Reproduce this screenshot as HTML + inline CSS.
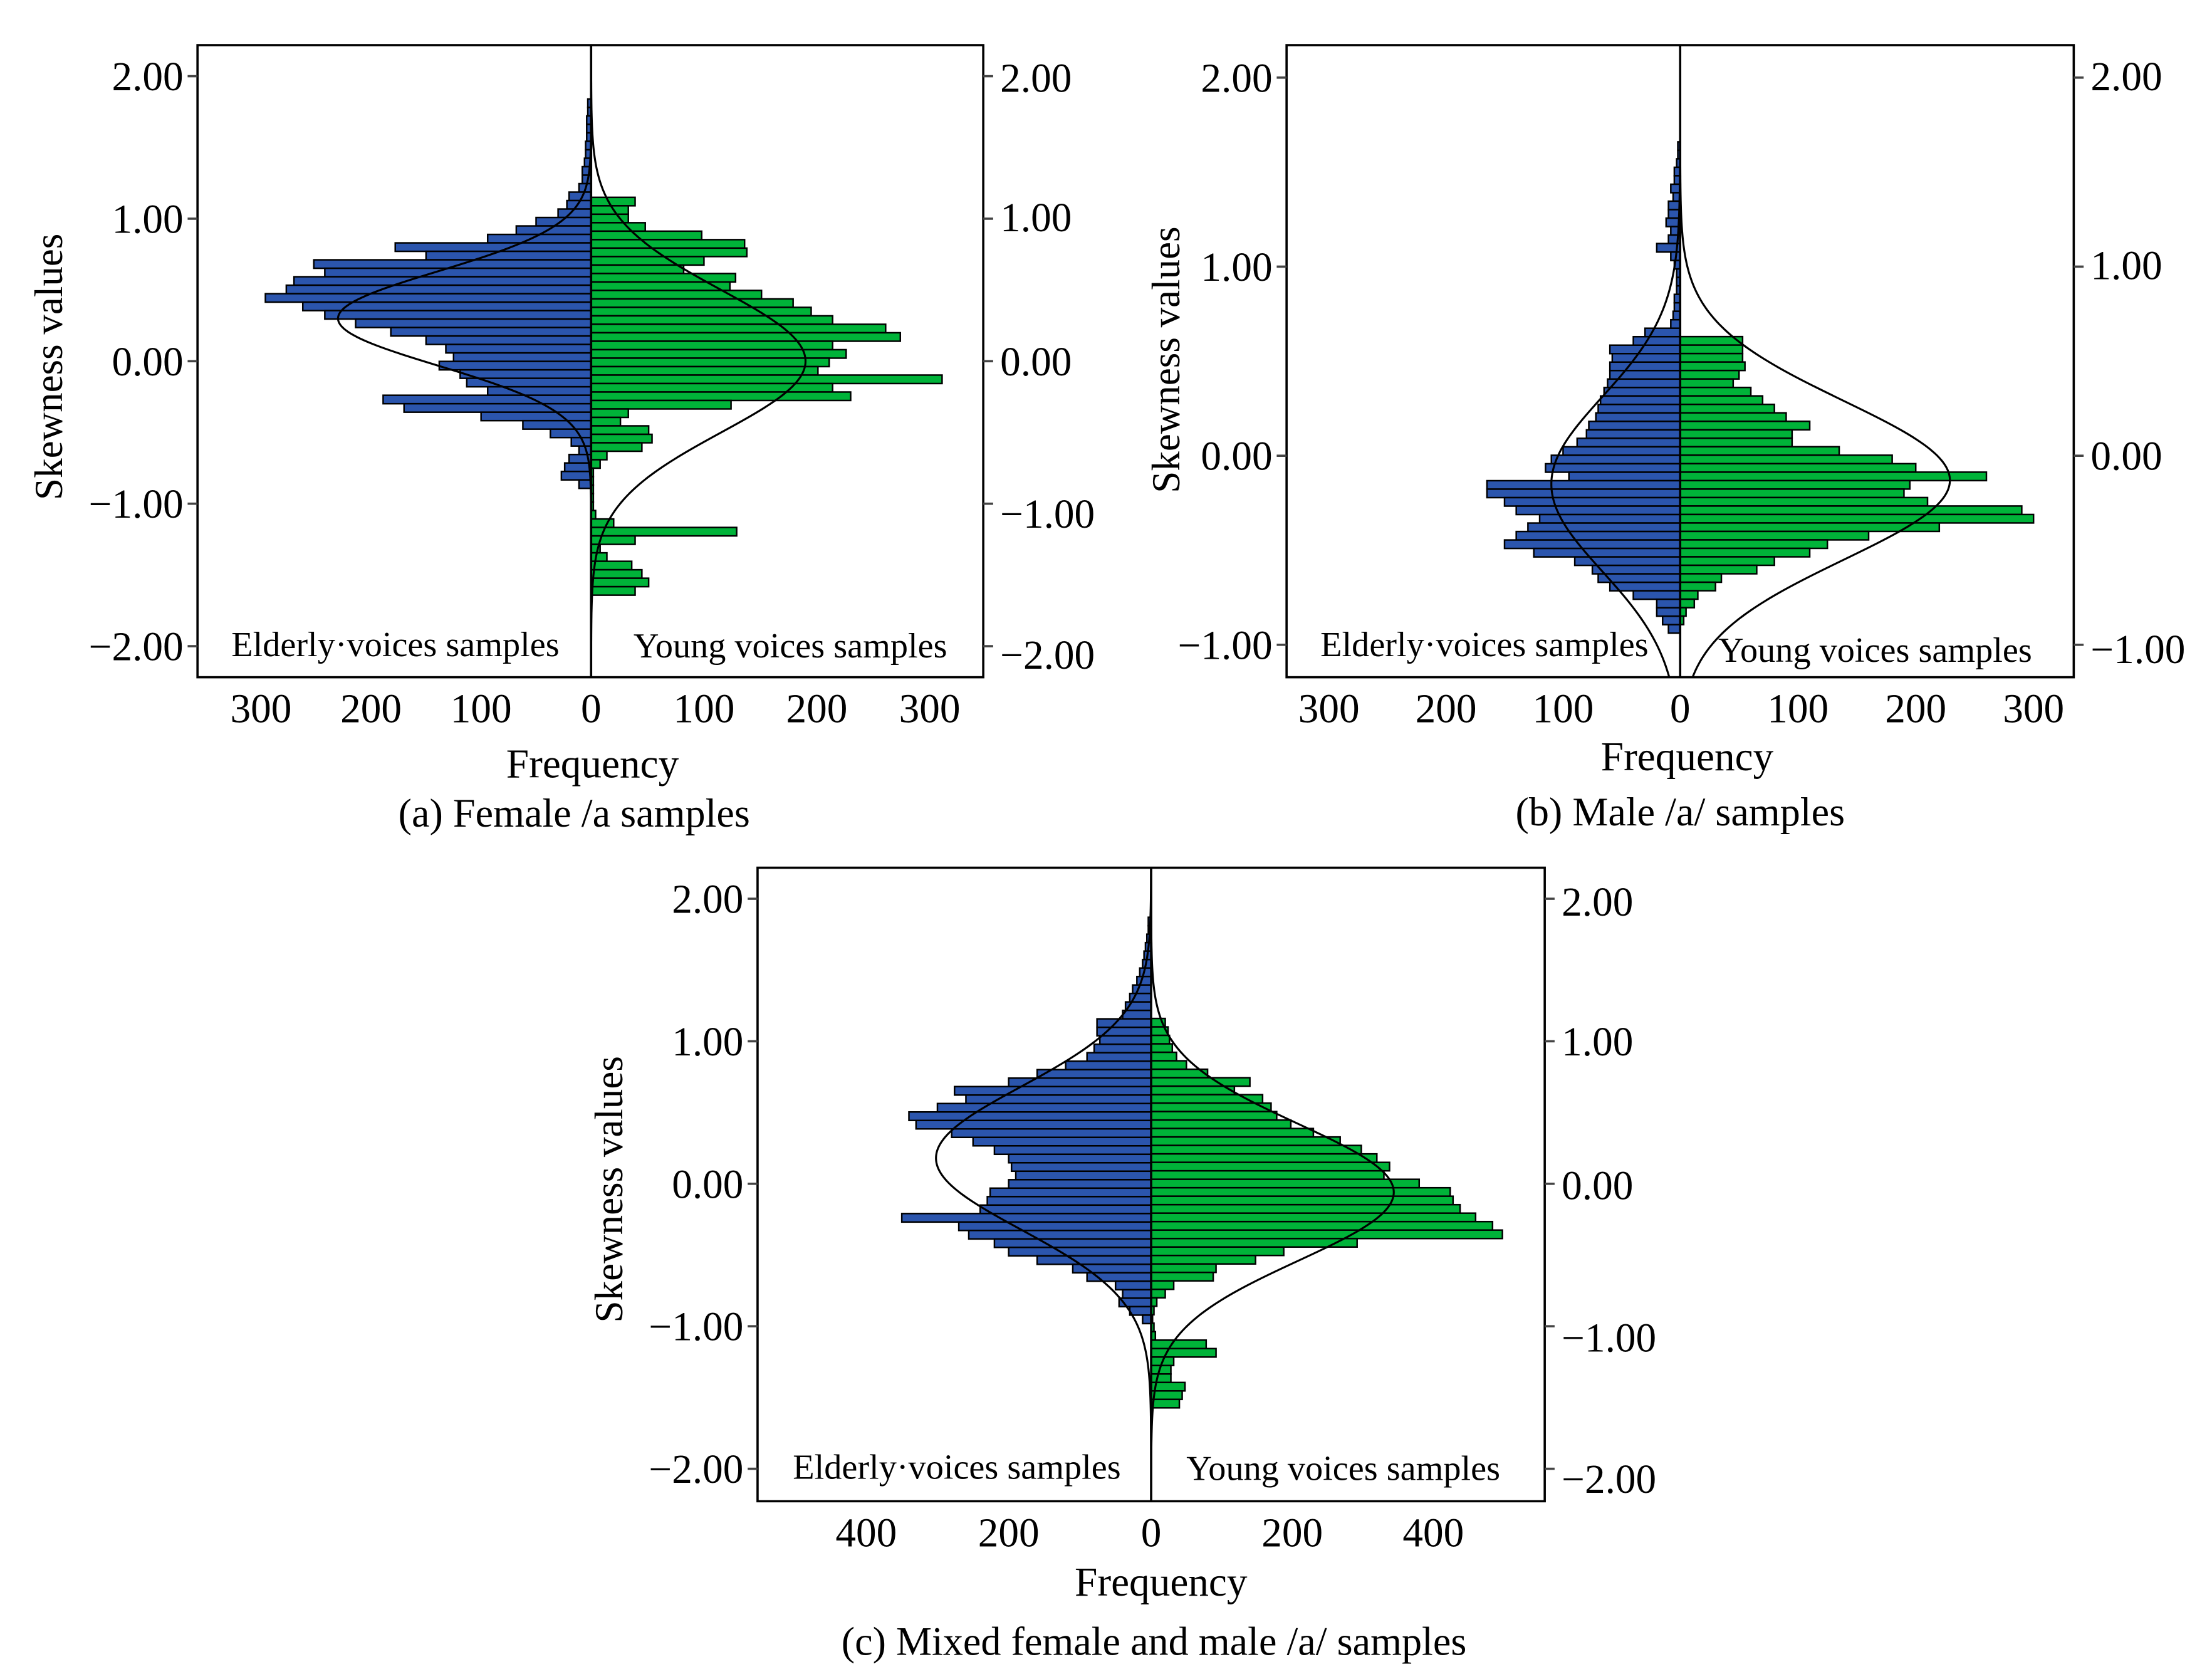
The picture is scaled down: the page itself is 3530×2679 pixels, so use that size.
<!DOCTYPE html>
<html><head><meta charset="utf-8">
<style>
html,body{margin:0;padding:0;background:#fff;}
svg{display:block;}
text{font-family:"Liberation Serif",serif;fill:#000;}
</style></head>
<body>
<svg id="fig" width="3530" height="2679" viewBox="0 0 1568 1190" xmlns="http://www.w3.org/2000/svg"></svg>
<script>
// ---- data (counts per bin, listed from top bin downward) ----
const aElderTop = 1.84, aYoungTop = 1.15, aBin = 0.0594;
const aElder = [3,3,4,4,4,5,5,6,8,8,11,20,22,30,50,68,94,178,150,252,242,270,277,296,262,242,214,182,150,132,125,138,119,113,94,189,170,100,62,37,18,11,20,24,27,11];
const aYoung = [39,33,33,48,98,136,138,100,82,128,123,151,179,195,214,261,274,214,226,211,201,311,214,230,124,33,26,51,54,45,14,8,2,2,2,2,2,4,20,129,39,8,14,36,45,51,39];
const bElderTop = 1.66, bYoungTop = 0.63, bBin = 0.0448;
const bElder = [2,2,3,5,5,8,6,10,10,12,8,10,20,8,5,3,3,3,5,5,6,8,30,40,60,58,60,60,62,65,68,70,72,78,80,88,100,110,115,95,165,165,150,140,120,130,140,150,125,90,75,70,60,40,20,20,15,10];
const bYoung = [53,53,53,55,50,45,60,70,80,90,110,95,95,135,180,200,260,195,190,210,290,300,220,160,125,110,80,65,35,30,15,12,5,3];
const cElderTop = 1.87, cYoungTop = 1.16, cBin = 0.0594;
const cElder = [4,4,6,8,10,12,16,20,26,30,36,40,76,76,72,80,90,120,160,200,276,260,300,340,330,280,250,220,200,196,190,200,226,230,240,350,270,256,220,200,160,110,90,50,40,45,30,12];
const cYoung = [20,24,26,30,36,50,80,140,118,158,170,178,198,230,268,298,320,338,330,380,424,428,438,460,484,498,292,188,148,92,88,32,20,8,4,2,4,6,78,92,32,28,28,48,44,40];
// normal curve parameters [mean, sd, peak count]
const aElderCurve = [0.30, 0.33, 230], aYoungCurve = [0.0, 0.5, 190];
const bElderCurve = [-0.15, 0.46, 110], bYoungCurve = [-0.13, 0.42, 229];
const cElderCurve = [0.18, 0.5, 302], cYoungCurve = [-0.06, 0.48, 344];
const yTicks = ["2.00","1.00","0.00","\u22121.00","\u22122.00"];
const yTickVals = [2,1,0,-1,-2];
const abXTicks = [300,200,100,0,100,200,300];
const cXTicks = [400,200,0,200,400];

const NS="http://www.w3.org/2000/svg";
const svg=document.getElementById('fig');
function mk(tag,attrs,parent){const e=document.createElementNS(NS,tag);for(const k in attrs)e.setAttribute(k,attrs[k]);(parent||svg).appendChild(e);return e;}
function txt(s,x,y,anchor,size,parent){const t=mk('text',{x:x,y:y,'text-anchor':anchor,'font-size':size},parent);t.textContent=s;return t;}

function panel(p){
  const g=mk('g',{});
  
  
  const yS=v=>p.y0-v*p.ypx;
  const xL=c=>p.zx-c*p.lpx;
  const xR=c=>p.zx+c*p.rpx;
  function bars(arr,top,bin,left,cls){
    arr.forEach((c,i)=>{
      const yt=yS(top-i*bin), yb=yS(top-(i+1)*bin);
      const x=left?xL(c):p.zx, w=left?(p.zx-xL(c)):(xR(c)-p.zx);
      const r=mk('rect',{x:x,y:yt,width:Math.max(w,0.5),height:yb-yt,fill:left?'#2b55ad':'#00b339',stroke:'#000','stroke-width':1.1},g);
      
      
    });
  }
  bars(p.elder,p.elderTop,p.bin,true,'elderly');
  bars(p.young,p.youngTop,p.bin,false,'young');
  function curve(par,left,nm){
    let d='';
    for(let py=p.top;py<=p.bot;py+=1){
      const v=(p.y0-py)/p.ypx;
      const c=par[2]*Math.exp(-Math.pow(v-par[0],2)/(2*par[1]*par[1]));
      const x=left?xL(c):xR(c);
      d+=(d?'L':'M')+x.toFixed(2)+' '+py;
    }
    const e=mk('path',{d:d,fill:'none',stroke:'#000','stroke-width':1.4},g);
    
    
  }
  curve(p.elderCurve,true,'elderly-normal-curve');
  curve(p.youngCurve,false,'young-normal-curve');
  const zl=mk('line',{x1:p.zx,y1:p.top,x2:p.zx,y2:p.bot,stroke:'#000','stroke-width':1.6},g);
  
  
  const fr=mk('rect',{x:p.left,y:p.top,width:p.right-p.left,height:p.bot-p.top,fill:'none',stroke:'#000','stroke-width':1.6},g);
  
  
  yTickVals.forEach((v,i)=>{
    const y=yS(v);
    if(y<p.top-2||y>p.bot+2)return;
    mk('line',{x1:p.left-7,y1:y,x2:p.left,y2:y,stroke:'#444','stroke-width':1.6},g);
    const t=txt(yTicks[i],p.left-10,y+10,'end',29,g);
    
    
    const ry=p.rightLabelY[i];
    mk('line',{x1:p.right,y1:y,x2:p.right+7,y2:y,stroke:'#444','stroke-width':1.6},g);
    const t2=txt(yTicks[i],p.right+12,ry+10,'start',29,g);
    
    
  });
  p.xTicks.forEach((c,i)=>{
    const left=i<p.xTicks.length/2-0.5;
    const x=c===0?p.zx:(left?xL(c):xR(c));
    const t=txt(String(c),x,p.bot+32,'middle',29,g);
    
    
  });
  let t=txt('Elderly\u00b7voices samples',p.elderLab[0],p.elderLab[1],'start',25,g);
  
  
  t=txt('Young voices samples',p.youngLab[0],p.youngLab[1],'start',25,g);
  
  
  t=txt('Frequency',p.freqLab[0],p.freqLab[1],'middle',29,g);
  
  
  t=txt(p.caption,p.capLab[0],p.capLab[1],'middle',28.5,g);
  
  
  t=txt('Skewness values',0,0,'middle',28,g);
  t.setAttribute('transform','translate('+p.yLab[0]+','+p.yLab[1]+') rotate(-90)');
  
  
}

panel({name:'panel-a-female',left:140,right:697,top:32,bot:480,zx:419,y0:256,ypx:101,lpx:0.78,rpx:0.80,
  elder:aElder,young:aYoung,elderTop:aElderTop,youngTop:aYoungTop,bin:aBin,elderCurve:aElderCurve,youngCurve:aYoungCurve,
  rightLabelY:[55,154,256,364,464],xTicks:abXTicks,elderLab:[164,465],youngLab:[449,466],freqLab:[420,551],capLab:[407,586],
  caption:'(a) Female /a samples',yLab:[44,260]});
panel({name:'panel-b-male',left:912,right:1470,top:32,bot:480,zx:1191,y0:323,ypx:134,lpx:0.83,rpx:0.835,
  elder:bElder,young:bYoung,elderTop:bElderTop,youngTop:bYoungTop,bin:bBin,elderCurve:bElderCurve,youngCurve:bYoungCurve,
  rightLabelY:[54,188,323,460,600],xTicks:abXTicks,elderLab:[936,465],youngLab:[1218,469],freqLab:[1196,546],capLab:[1191,585],
  caption:'(b) Male /a/ samples',yLab:[836,255]});
panel({name:'panel-c-mixed',left:537,right:1095,top:615,bot:1064,zx:816,y0:839,ypx:101,lpx:0.505,rpx:0.5,
  elder:cElder,young:cYoung,elderTop:cElderTop,youngTop:cYoungTop,bin:cBin,elderCurve:cElderCurve,youngCurve:cYoungCurve,
  rightLabelY:[639,738,840,948,1048],xTicks:cXTicks,elderLab:[562,1048],youngLab:[841,1049],freqLab:[823,1131],capLab:[818,1173],
  caption:'(c) Mixed female and male /a/ samples',yLab:[441,843]});
</script>
</body></html>
